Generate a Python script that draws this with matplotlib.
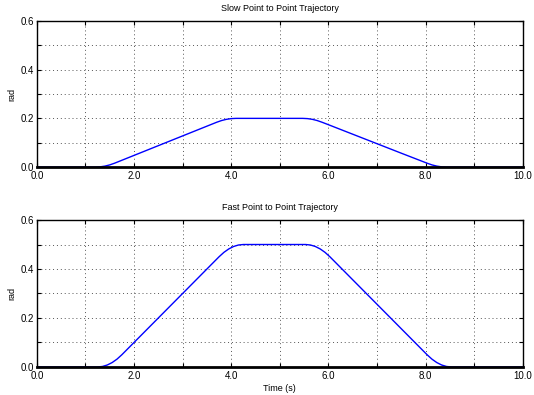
import matplotlib
matplotlib.use('Agg')
import matplotlib.pyplot as plt
from matplotlib.ticker import MultipleLocator, FuncFormatter

plt.rcParams['font.family'] = ['Liberation Sans', 'DejaVu Sans']

# Slow trajectory
t_slow = [0.0, 1.2, 1.3, 1.4, 1.5, 1.6, 2.0, 2.5, 3.0, 3.5, 3.7, 3.8, 3.9, 4.0, 4.1,
          5.47, 5.57, 5.67, 5.77, 5.87, 6.0, 6.5, 7.0, 7.5, 8.03, 8.13, 8.23, 8.33, 8.43, 10.0]
q_slow = [0.0, 0.0, 0.001, 0.004, 0.009, 0.016, 0.048, 0.088, 0.128, 0.168, 0.184, 0.191, 0.196, 0.199, 0.200,
          0.200, 0.199, 0.196, 0.191, 0.184, 0.174, 0.135, 0.096, 0.057, 0.016, 0.009, 0.004, 0.001, 0.0, 0.0]

# Fast trajectory
t_fast = [0.0, 1.25, 1.35, 1.45, 1.55, 1.65, 1.75, 2.0, 2.5, 3.0, 3.5, 3.75, 3.85, 3.95, 4.05, 4.15, 4.25,
          5.53, 5.63, 5.73, 5.83, 5.93, 6.03, 6.5, 7.0, 7.5, 8.03, 8.13, 8.23, 8.33, 8.43, 8.53, 10.0]
q_fast = [0.0, 0.0, 0.002, 0.008, 0.018, 0.032, 0.050, 0.100, 0.200, 0.300, 0.400, 0.450, 0.468, 0.482, 0.492, 0.498, 0.500,
          0.500, 0.498, 0.492, 0.482, 0.468, 0.450, 0.356, 0.256, 0.156, 0.050, 0.032, 0.018, 0.008, 0.002, 0.0, 0.0]

titles = ['Slow Point to Point Trajectory', 'Fast Point to Point Trajectory']


def fmt_x(v, pos):
    return '%.1f' % v if round(v) % 2 == 0 else ''


def fmt_y(v, pos):
    return '%.1f' % v if round(v * 10) % 2 == 0 else ''


fig = plt.figure(figsize=(5.34, 3.95), dpi=100)
ax1 = fig.add_axes([0.069, 0.577, 0.910, 0.370])
ax2 = fig.add_axes([0.069, 0.071, 0.910, 0.372])

for ax, t, q, title in [(ax1, t_slow, q_slow, titles[0]), (ax2, t_fast, q_fast, titles[1])]:
    ax.plot(t, q, color='blue', linewidth=1.0)
    ax.set_xlim(0, 10)
    ax.set_ylim(0, 0.6)
    ax.xaxis.set_major_locator(MultipleLocator(1))
    ax.yaxis.set_major_locator(MultipleLocator(0.1))
    ax.xaxis.set_major_formatter(FuncFormatter(fmt_x))
    ax.yaxis.set_major_formatter(FuncFormatter(fmt_y))
    ax.tick_params(direction='in', length=3, width=0.8, labelsize=7,
                   top=True, right=True)
    ax.tick_params(axis='x', pad=3)
    ax.tick_params(axis='y', pad=2)
    ax.grid(True, linestyle=(0, (1, 3)), color='#555555', linewidth=0.7)
    for s in ax.spines.values():
        s.set_linewidth(1.0)
    ax.spines['bottom'].set_linewidth(2.0)
    ax.set_title(title, fontsize=6.5, pad=7)
    ax.set_ylabel('rad', fontsize=6.5, labelpad=3)

ax2.set_xlabel('Time (s)', fontsize=6.5, labelpad=2)

fig.savefig('out.png', dpi=100)
